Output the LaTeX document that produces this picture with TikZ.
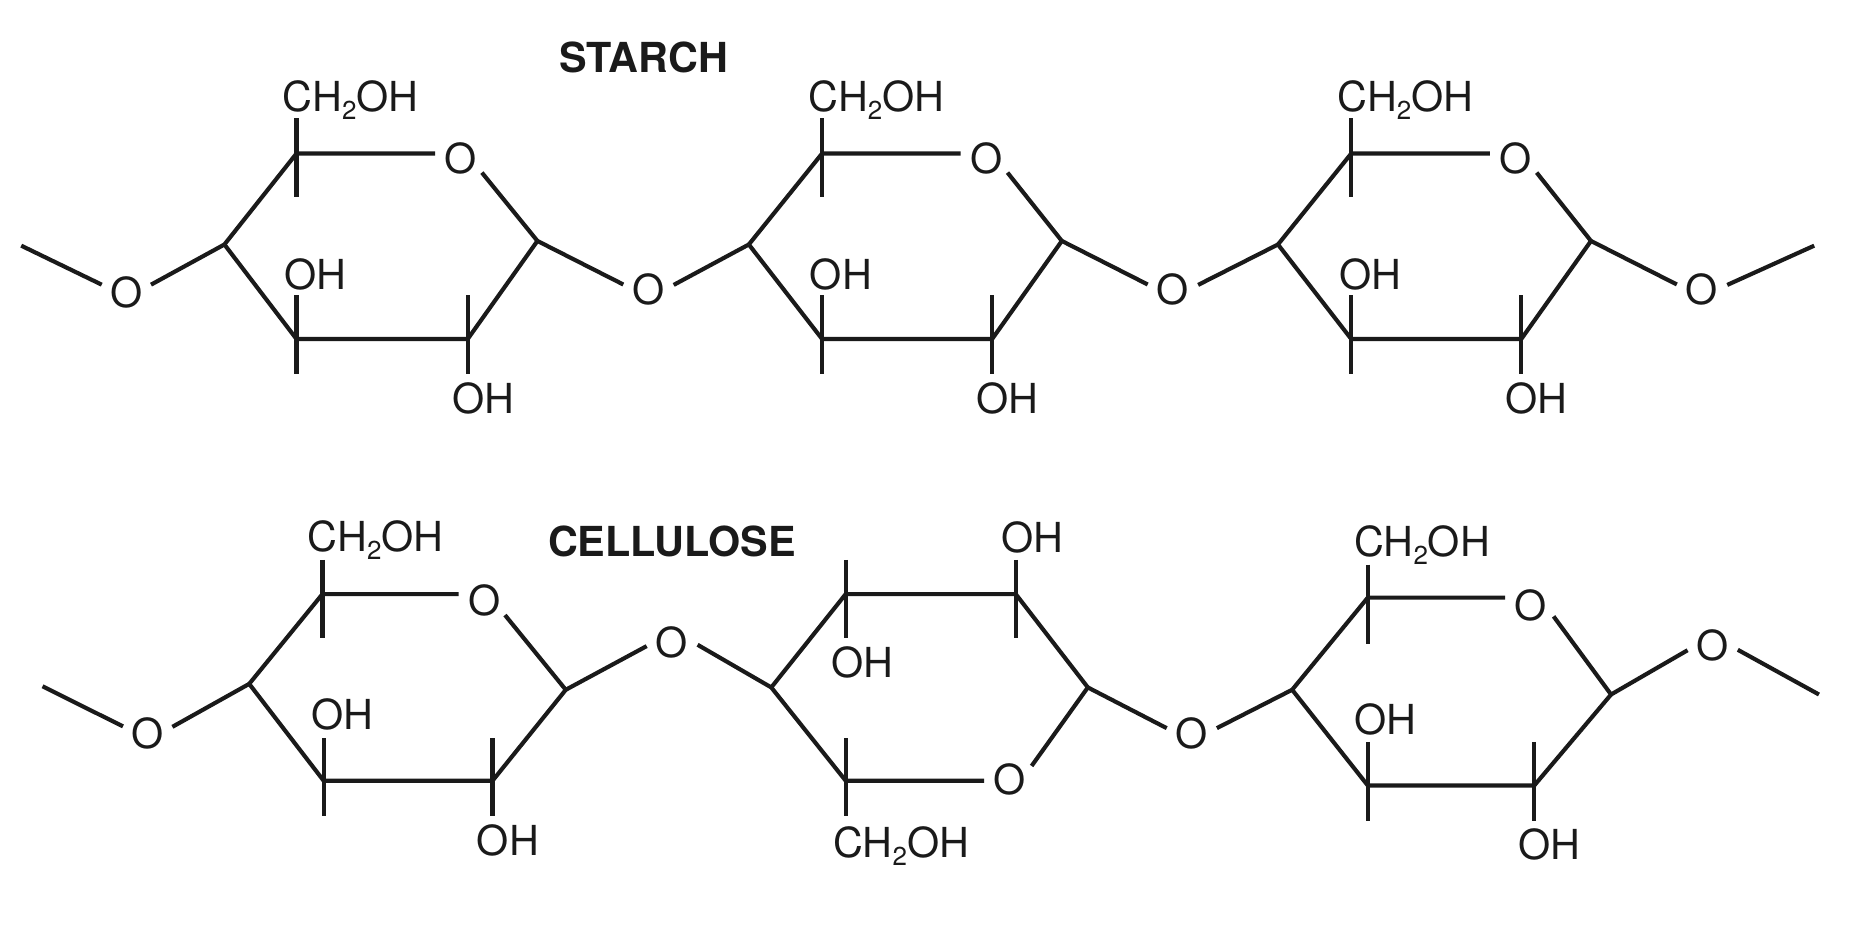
\documentclass[tikz,border=0pt]{standalone}
\usepackage{fontspec}
\setmainfont{TeX Gyre Heros}
\newcommand{\chtwo}{CH\raisebox{-7pt}{\fontsize{22}{22}\selectfont 2}OH}
\definecolor{ink}{HTML}{1A1A1A}
\tikzset{
  bond/.style={draw=ink,line width=3.5pt},
  atom/.style={circle,inner sep=0pt,minimum size=43pt,text=ink,text height=26pt,text depth=0pt,xshift=1pt},
  group/.style={inner sep=0pt,text=ink,text height=26pt,text depth=0pt,xshift=1pt},
  heading/.style={group,font=\fontsize{35}{40}\selectfont\bfseries}
}
\begin{document}
\begin{tikzpicture}[x=1pt,y=-1pt,every node/.append style={font=\fontsize{35}{40}\selectfont}]
\useasboundingbox (0,0) rectangle (1568,786.5);
\node[heading] (starch) at (544,48) {STARCH};
\node[heading] (cellulose) at (568,458) {CELLULOSE};
% starch, first ring
\coordinate (sa1) at (251,130); \coordinate (sb1) at (455,204); \coordinate (sc1) at (396,287);
\coordinate (sd1) at (251,287); \coordinate (se1) at (190,207); \coordinate (send1) at (18,208);
\node[atom] (so1) at (389,134) {O};
\node[atom] (sl1) at (106,247) {O};
\node[atom] (sl2) at (548,245) {O};
\node[group] (sch1) at (296,81) {\chtwo};
\node[group] (soh1) at (266,232) {OH};
\node[group] (soh2) at (408,337) {OH};
\draw[bond] (send1) -- (sl1.164); \draw[bond] (sl1.16) -- (se1);
\draw[bond] (se1) -- (sa1) -- (sa1 -| so1.west); \draw[bond] (so1.-34) -- (sb1);
\draw[bond] (sb1) -- (sc1) -- (sd1) -- (se1); \draw[bond] (sb1) -- (sl2.169);
\draw[bond] (sa1) ++(0,-30) -- ++(0,67);
\draw[bond] (sd1) ++(0,-37) -- ++(0,67);
\draw[bond] (sc1) ++(0,-37) -- ++(0,67);
% starch, second ring
\coordinate (sa2) at (696,130); \coordinate (sb2) at (899,204); \coordinate (sc2) at (840,287);
\coordinate (sd2) at (696,287); \coordinate (se2) at (634,207);
\node[atom] (so2) at (834,134) {O};
\node[atom] (sl3) at (992,245) {O};
\node[group] (sch2) at (741,81) {\chtwo};
\node[group] (soh3) at (711,232) {OH};
\node[group] (soh4) at (852,337) {OH};
\draw[bond] (sl2.10) -- (se2);
\draw[bond] (se2) -- (sa2) -- (sa2 -| so2.west); \draw[bond] (so2.-34) -- (sb2);
\draw[bond] (sb2) -- (sc2) -- (sd2) -- (se2); \draw[bond] (sb2) -- (sl3.169);
\draw[bond] (sa2) ++(0,-30) -- ++(0,67);
\draw[bond] (sd2) ++(0,-37) -- ++(0,67);
\draw[bond] (sc2) ++(0,-37) -- ++(0,67);
% starch, third ring
\coordinate (sa3) at (1144,130); \coordinate (sb3) at (1347,204); \coordinate (sc3) at (1288,287);
\coordinate (sd3) at (1144,287); \coordinate (se3) at (1082,207); \coordinate (send2) at (1536,208);
\node[atom] (so3) at (1282,134) {O};
\node[atom] (sl4) at (1440,245) {O};
\node[group] (sch3) at (1189,81) {\chtwo};
\node[group] (soh5) at (1159,232) {OH};
\node[group] (soh6) at (1300,337) {OH};
\draw[bond] (sl3.10) -- (se3);
\draw[bond] (se3) -- (sa3) -- (sa3 -| so3.west); \draw[bond] (so3.-34) -- (sb3);
\draw[bond] (sb3) -- (sc3) -- (sd3) -- (se3); \draw[bond] (sb3) -- (sl4.169); \draw[bond] (sl4.10) -- (send2);
\draw[bond] (sa3) ++(0,-30) -- ++(0,67);
\draw[bond] (sd3) ++(0,-37) -- ++(0,67);
\draw[bond] (sc3) ++(0,-37) -- ++(0,67);
% cellulose, first ring
\coordinate (ca1) at (273,503); \coordinate (cb1) at (479,584); \coordinate (cc1) at (417,661);
\coordinate (cd1) at (274,661); \coordinate (ce1) at (211,579); \coordinate (cend1) at (36,581);
\node[atom] (co1) at (409,508) {O};
\node[atom] (cl1) at (124,621) {O};
\node[atom] (cl2) at (568,544) {O};
\node[group] (cch1) at (317,454) {\chtwo};
\node[group] (coh1) at (289,605) {OH};
\node[group] (coh2) at (429,711) {OH};
\draw[bond] (cend1) -- (cl1.164); \draw[bond] (cl1.15) -- (ce1);
\draw[bond] (ce1) -- (ca1) -- (ca1 -| co1.west); \draw[bond] (co1.-36) -- (cb1);
\draw[bond] (cb1) -- (cc1) -- (cd1) -- (ce1); \draw[bond] (cb1) -- (cl2.188);
\draw[bond] (ca1) ++(0,-29) -- ++(0,66);
\draw[bond] (cd1) ++(0,-36) -- ++(0,66);
\draw[bond] (cc1) ++(0,-36) -- ++(0,66);
% cellulose, second ring (flipped)
\coordinate (ca2) at (716,503); \coordinate (cf2) at (860,503); \coordinate (cb2) at (921,582);
\coordinate (cd2) at (716,661); \coordinate (ce2) at (653,582);
\node[atom] (co2) at (854,660) {O};
\node[atom] (cl3) at (1008,621) {O};
\node[group] (coh3) at (873,455) {OH};
\node[group] (coh4) at (729,561) {OH};
\node[group] (cch2) at (762,713) {\chtwo};
\draw[bond] (cl2.-5) -- (ce2);
\draw[bond] (ce2) -- (ca2) -- (cf2) -- (cb2); \draw[bond] (cb2) -- (co2.32);
\draw[bond] (co2.west |- cd2) -- (cd2) -- (ce2); \draw[bond] (cb2) -- (cl3.168);
\draw[bond] (ca2) ++(0,-29) -- ++(0,66);
\draw[bond] (cf2) ++(0,-29) -- ++(0,66);
\draw[bond] (cd2) ++(0,-36) -- ++(0,66);
% cellulose, third ring
\coordinate (ca3) at (1158,506); \coordinate (cb3) at (1364,588); \coordinate (cc3) at (1299,665);
\coordinate (cd3) at (1158,665); \coordinate (ce3) at (1094,584); \coordinate (cend2) at (1540,588);
\node[atom] (co3) at (1295,512) {O};
\node[atom] (cl4) at (1449,546) {O};
\node[group] (cch3) at (1203,458) {\chtwo};
\node[group] (coh5) at (1172,609) {OH};
\node[group] (coh6) at (1311,715) {OH};
\draw[bond] (cl3.12) -- (ce3);
\draw[bond] (ce3) -- (ca3) -- (ca3 -| co3.west); \draw[bond] (co3.-27) -- (cb3);
\draw[bond] (cb3) -- (cc3) -- (cd3) -- (ce3); \draw[bond] (cb3) -- (cl4.192); \draw[bond] (cl4.-11) -- (cend2);
\draw[bond] (ca3) ++(0,-28) -- ++(0,67);
\draw[bond] (cd3) ++(0,-37) -- ++(0,67);
\draw[bond] (cc3) ++(0,-37) -- ++(0,67);
\end{tikzpicture}
\end{document}
